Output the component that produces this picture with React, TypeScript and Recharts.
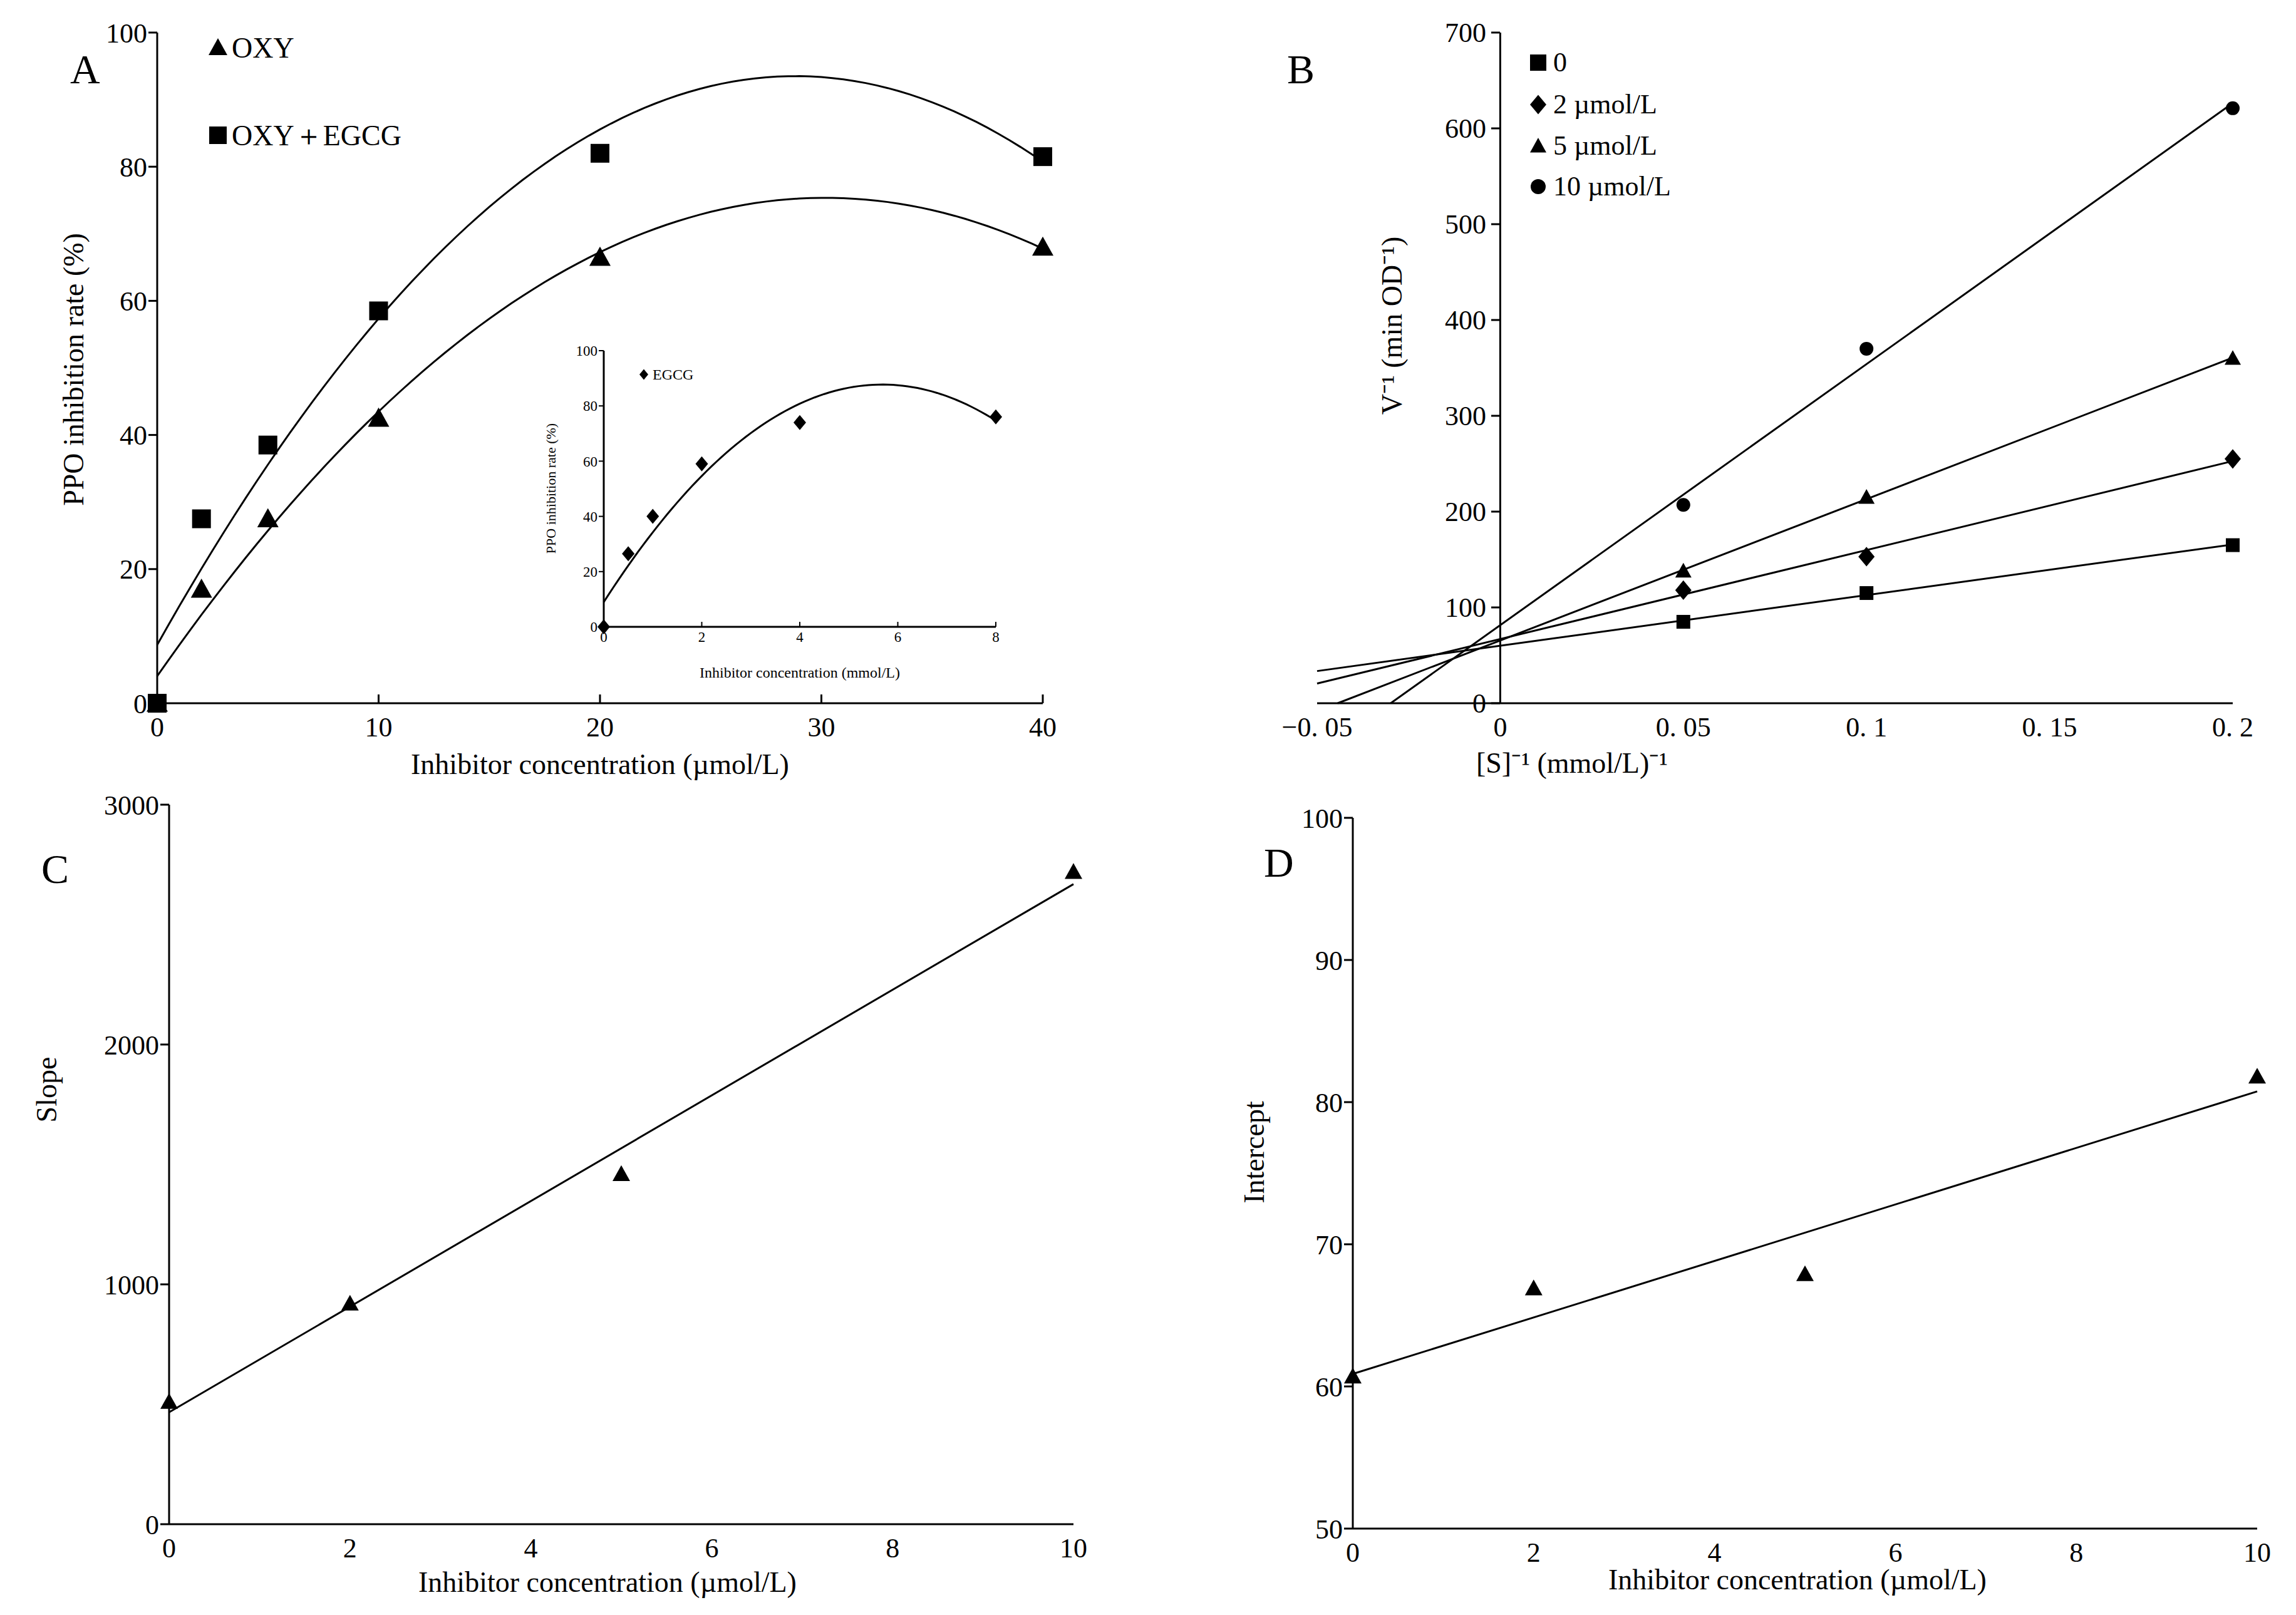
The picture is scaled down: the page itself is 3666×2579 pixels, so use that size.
import React from "react";
import {
  ComposedChart,
  Line,
  Scatter,
  XAxis,
  YAxis,
  ReferenceLine,
} from "recharts";

const FONT = "Liberation Serif, Times New Roman, serif";

// Panel A data
const concA = [0, 2, 5, 10, 20, 40];
const oxy = [0, 17, 27.5, 42.5, 66.5, 68];
const oxyEgcg = [0, 27.5, 38.5, 58.5, 82, 81.5];
// inset
const concEgcg = [0, 0.5, 1, 2, 4, 8];
const egcg = [0, 26.5, 40, 59, 74, 76];
// Panel B
const invS = [0.05, 0.1, 0.2];
const invV0 = [85, 115, 165];
const invV2 = [118, 153, 255];
const invV5 = [138, 215, 360];
const invV10 = [207, 370, 621];
// Panels C & D
const concCD = [0, 2, 5, 10];
const slope = [510, 920, 1460, 2720];
const intercept = [60.7, 66.9, 67.9, 81.8];

const zip = (xs: number[], ys: number[]) => xs.map((x, i) => ({ x, y: ys[i] }));

function linFit(xs: number[], ys: number[]) {
  const n = xs.length;
  const mx = xs.reduce((a, b) => a + b, 0) / n;
  const my = ys.reduce((a, b) => a + b, 0) / n;
  let sxy = 0, sxx = 0;
  xs.forEach((x, i) => { sxy += (x - mx) * (ys[i] - my); sxx += (x - mx) ** 2; });
  const b = sxy / sxx;
  return { a: my - b * mx, b };
}

function quadFit(xs: number[], ys: number[]) {
  const s = (p: number) => xs.reduce((a, x) => a + x ** p, 0);
  const t = (p: number) => xs.reduce((a, x, i) => a + x ** p * ys[i], 0);
  const M = [
    [xs.length, s(1), s(2), t(0)],
    [s(1), s(2), s(3), t(1)],
    [s(2), s(3), s(4), t(2)],
  ];
  for (let i = 0; i < 3; i++) {
    for (let j = i + 1; j < 3; j++) {
      const f = M[j][i] / M[i][i];
      for (let k = i; k < 4; k++) M[j][k] -= f * M[i][k];
    }
  }
  const c = [0, 0, 0];
  for (let i = 2; i >= 0; i--) {
    let v = M[i][3];
    for (let k = i + 1; k < 3; k++) v -= M[i][k] * c[k];
    c[i] = v / M[i][i];
  }
  return (x: number) => c[0] + c[1] * x + c[2] * x * x;
}

const sampleCurve = (f: (x: number) => number, x0: number, x1: number) =>
  Array.from({ length: 81 }, (_, i) => {
    const x = x0 + ((x1 - x0) * i) / 80;
    return { x, y: f(x) };
  });

const lineSeg = (xs: number[], ys: number[], x0: number, x1: number) => {
  const { a, b } = linFit(xs, ys);
  const start = Math.max(x0, -a / b);
  return [{ x: start, y: a + b * start }, { x: x1, y: a + b * x1 }];
};

const mk = (kind: string, size: number) => (p: any) => {
  const { cx, cy } = p;
  const h = size / 2;
  if (kind === "square") return <rect x={cx - h} y={cy - h} width={size} height={size} fill="#000" />;
  if (kind === "diamond")
    return <polygon points={`${cx},${cy - h * 1.2} ${cx + h},${cy} ${cx},${cy + h * 1.2} ${cx - h},${cy}`} fill="#000" />;
  if (kind === "circle") return <circle cx={cx} cy={cy} r={h} fill="#000" />;
  return <polygon points={`${cx},${cy - h} ${cx + h},${cy + h * 0.8} ${cx - h},${cy + h * 0.8}`} fill="#000" />;
};

const txt = (s: string, left: number, top: number, size: number, extra: any = {}) => (
  <div style={{ position: "absolute", left, top, fontSize: size, fontFamily: FONT, whiteSpace: "nowrap", lineHeight: 1, ...extra }}>
    {s}
  </div>
);

const vtxt = (s: string, cx: number, cy: number, size: number) => (
  <div style={{ position: "absolute", left: cx, top: cy, fontSize: size, fontFamily: FONT, whiteSpace: "nowrap", lineHeight: 1, transform: "translate(-50%,-50%) rotate(-90deg)" }}>
    {s}
  </div>
);

const axisStyle = { stroke: "#000", strokeWidth: 3 };
const tickStyle = { fill: "#000", fontSize: 44, fontFamily: FONT };

const fitA1 = quadFit(concA, oxy);
const fitA2 = quadFit(concA, oxyEgcg);
const fitIn = quadFit(concEgcg, egcg);
const fitC = linFit(concCD, slope);
const fitD = linFit(concCD, intercept);

const B_PLOT_LEFT = 203;
const B_ZERO = 292; // pixel offset of x=0 inside panel B plot

const BTick = (p: any) => {
  const { y, payload } = p;
  const x0 = B_PLOT_LEFT + B_ZERO;
  return (
    <g>
      <line x1={x0 - 14} x2={x0} y1={y} y2={y} stroke="#000" strokeWidth={3} />
      <text x={x0 - 22} y={y} dy={15} textAnchor="end" fill="#000" fontSize={44} fontFamily={FONT}>
        {payload.value}
      </text>
    </g>
  );
};

const bLabels: Record<string, string> = { "-0.05": "−0. 05", "0": "0", "0.05": "0. 05", "0.1": "0. 1", "0.15": "0. 15", "0.2": "0. 2" };

export default function App() {
  const lineProps = { dataKey: "y", stroke: "#000", strokeWidth: 3, dot: false, isAnimationActive: false, type: "linear" as const, legendType: "none" as const };
  return (
    <div style={{ position: "absolute", left: 0, top: 0, width: 3666, height: 2579, background: "#fff" }}>
      {/* Panel A */}
      <div style={{ position: "absolute", left: 0, top: 0 }}>
        <ComposedChart width={1750} height={1250} margin={{ top: 52, right: 85, bottom: 67, left: 151 }}>
          <XAxis type="number" dataKey="x" domain={[0, 40]} ticks={[0, 10, 20, 30, 40]} axisLine={axisStyle} tickLine={{ stroke: "#000", strokeWidth: 3 }} tickSize={-14} tick={tickStyle} tickMargin={36} height={60} />
          <YAxis type="number" domain={[0, 100]} ticks={[0, 20, 40, 60, 80, 100]} axisLine={axisStyle} tickLine={{ stroke: "#000", strokeWidth: 3 }} tickSize={14} tick={tickStyle} width={100} />
          <Line {...lineProps} data={sampleCurve(fitA1, 0, 40)} />
          <Line {...lineProps} data={sampleCurve(fitA2, 0, 40)} />
          <Scatter data={zip(concA, oxy)} dataKey="y" shape={mk("triangle", 34)} isAnimationActive={false} />
          <Scatter data={zip(concA, oxyEgcg)} dataKey="y" shape={mk("square", 30)} isAnimationActive={false} />
        </ComposedChart>
      </div>
      {/* Inset */}
      <div style={{ position: "absolute", left: 800, top: 500 }}>
        <ComposedChart width={850} height={580} margin={{ top: 60, right: 60, bottom: 39, left: 104 }}>
          <XAxis type="number" dataKey="x" domain={[0, 8]} ticks={[0, 2, 4, 6, 8]} axisLine={{ stroke: "#000", strokeWidth: 3 }} tickLine={{ stroke: "#000", strokeWidth: 2 }} tickSize={-8} tickMargin={16} tick={{ ...tickStyle, fontSize: 23 }} height={40} />
          <YAxis type="number" domain={[0, 100]} ticks={[0, 20, 40, 60, 80, 100]} axisLine={{ stroke: "#000", strokeWidth: 3 }} tickLine={{ stroke: "#000", strokeWidth: 2 }} tickSize={8} tick={{ ...tickStyle, fontSize: 23 }} width={60} />
          <Line {...lineProps} data={sampleCurve(fitIn, 0, 8)} />
          <Scatter data={zip(concEgcg, egcg)} dataKey="y" shape={mk("diamond", 20)} isAnimationActive={false} />
        </ComposedChart>
      </div>
      {/* Panel B */}
      <div style={{ position: "absolute", left: 1900, top: 0 }}>
        <ComposedChart width={1766} height={1250} margin={{ top: 52, right: 101, bottom: 67, left: B_PLOT_LEFT - 100 }}>
          <XAxis type="number" dataKey="x" domain={[-0.05, 0.2]} ticks={[-0.05, 0, 0.05, 0.1, 0.15, 0.2]} axisLine={axisStyle} tickLine={false} tick={tickStyle} tickMargin={16} tickFormatter={(v: number) => bLabels[String(v)] ?? String(v)} height={60} />
          <YAxis type="number" domain={[0, 700]} ticks={[0, 100, 200, 300, 400, 500, 600, 700]} axisLine={false} tickLine={false} tick={<BTick />} width={100} />
          <ReferenceLine x={0} stroke="#000" strokeWidth={3} />
          <Line {...lineProps} data={lineSeg(invS, invV0, -0.05, 0.2)} />
          <Line {...lineProps} data={lineSeg(invS, invV2, -0.05, 0.2)} />
          <Line {...lineProps} data={lineSeg(invS, invV5, -0.05, 0.2)} />
          <Line {...lineProps} data={lineSeg(invS, invV10, -0.05, 0.2)} />
          <Scatter data={zip(invS, invV0)} dataKey="y" shape={mk("square", 22)} isAnimationActive={false} />
          <Scatter data={zip(invS, invV2)} dataKey="y" shape={mk("diamond", 26)} isAnimationActive={false} />
          <Scatter data={zip(invS, invV5)} dataKey="y" shape={mk("triangle", 26)} isAnimationActive={false} />
          <Scatter data={zip(invS, invV10)} dataKey="y" shape={mk("circle", 22)} isAnimationActive={false} />
        </ComposedChart>
      </div>
      {/* Panel C */}
      <div style={{ position: "absolute", left: 0, top: 1250 }}>
        <ComposedChart width={1800} height={1329} margin={{ top: 35, right: 86, bottom: 85, left: 170 }}>
          <XAxis type="number" dataKey="x" domain={[0, 10]} ticks={[0, 2, 4, 6, 8, 10]} axisLine={axisStyle} tickLine={false} tick={tickStyle} tickMargin={16} height={60} />
          <YAxis type="number" domain={[0, 3000]} ticks={[0, 1000, 2000, 3000]} axisLine={axisStyle} tickLine={{ stroke: "#000", strokeWidth: 3 }} tickSize={14} tick={tickStyle} width={100} />
          <Line {...lineProps} data={[{ x: 0, y: fitC.a }, { x: 10, y: fitC.a + 10 * fitC.b }]} />
          <Scatter data={zip(concCD, slope)} dataKey="y" shape={mk("triangle", 28)} isAnimationActive={false} />
        </ComposedChart>
      </div>
      {/* Panel D */}
      <div style={{ position: "absolute", left: 1900, top: 1250 }}>
        <ComposedChart width={1766} height={1329} margin={{ top: 56, right: 62, bottom: 78, left: 160 }}>
          <XAxis type="number" dataKey="x" domain={[0, 10]} ticks={[0, 2, 4, 6, 8, 10]} axisLine={axisStyle} tickLine={false} tick={tickStyle} tickMargin={16} height={60} />
          <YAxis type="number" domain={[50, 100]} ticks={[50, 60, 70, 80, 90, 100]} axisLine={axisStyle} tickLine={{ stroke: "#000", strokeWidth: 3 }} tickSize={14} tick={tickStyle} width={100} />
          <Line {...lineProps} data={[{ x: 0, y: fitD.a }, { x: 10, y: fitD.a + 10 * fitD.b }]} />
          <Scatter data={zip(concCD, intercept)} dataKey="y" shape={mk("triangle", 28)} isAnimationActive={false} />
        </ComposedChart>
      </div>

      {/* Panel letters */}
      {txt("A", 112, 78, 66)}
      {txt("B", 2055, 78, 66)}
      {txt("C", 66, 1355, 66)}
      {txt("D", 2018, 1345, 66)}

      <svg style={{ position: "absolute", left: 0, top: 0 }} width={3666} height={2579}>
        {mk("triangle", 30)({ cx: 348, cy: 76 })}
        {mk("square", 28)({ cx: 348, cy: 216 })}
        {mk("diamond", 14)({ cx: 1028, cy: 598 })}
        {mk("square", 26)({ cx: 2456, cy: 100 })}
        {mk("diamond", 26)({ cx: 2456, cy: 167 })}
        {mk("triangle", 26)({ cx: 2456, cy: 233 })}
        {mk("circle", 24)({ cx: 2456, cy: 298 })}
      </svg>
      {txt("OXY", 370, 54, 46)}
      {txt("OXY＋EGCG", 370, 194, 46)}
      {txt("EGCG", 1042, 586, 24)}
      {txt("0", 2480, 78, 44)}
      {txt("2 µmol/L", 2480, 145, 44)}
      {txt("5 µmol/L", 2480, 211, 44)}
      {txt("10 µmol/L", 2480, 276, 44)}

      {/* Axis titles */}
      {txt("Inhibitor concentration (µmol/L)", 958, 1198, 46, { transform: "translateX(-50%)" })}
      {vtxt("PPO inhibition rate (%)", 118, 590, 46)}
      {txt("Inhibitor concentration (mmol/L)", 1277, 1062, 24, { transform: "translateX(-50%)" })}
      {vtxt("PPO inhibition rate (%)", 880, 780, 22)}
      {txt("[S]⁻¹ (mmol/L)⁻¹", 2510, 1196, 46, { transform: "translateX(-50%)" })}
      {vtxt("V⁻¹ (min OD⁻¹)", 2223, 520, 46)}
      {txt("Inhibitor concentration (µmol/L)", 970, 2504, 46, { transform: "translateX(-50%)" })}
      {vtxt("Slope", 75, 1740, 46)}
      {txt("Inhibitor concentration (µmol/L)", 2870, 2500, 46, { transform: "translateX(-50%)" })}
      {vtxt("Intercept", 2003, 1840, 46)}
    </div>
  );
}
